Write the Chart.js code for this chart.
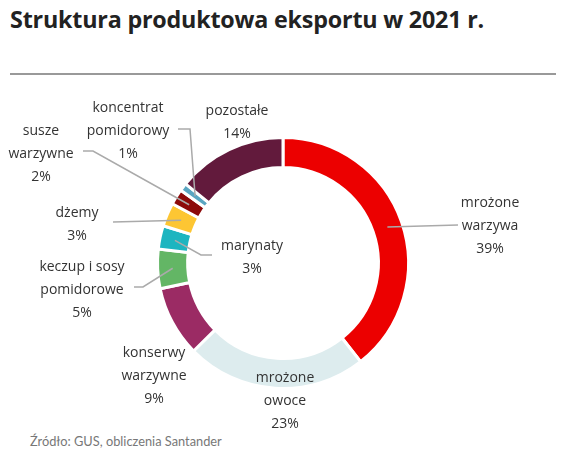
<!DOCTYPE html>
<html>
<head>
<meta charset="utf-8">
<script src="https://cdn.jsdelivr.net/npm/chart.js@4"></script>
<style>
  body { margin: 0; background: #fff; width: 570px; height: 467px; position: relative; overflow: hidden; }
  #title { position: absolute; left: 10px; top: 3px; font: bold 23.3px "Open Sans", sans-serif; color: #222; letter-spacing: -0.2px; }
  #rule { position: absolute; left: 10px; top: 73px; width: 546px; height: 2px; background: #999; }
  #source { position: absolute; left: 30px; top: 433px; font: 12.8px Lato, sans-serif; color: #777; }
  #wrap { position: absolute; left: 0; top: 0; width: 570px; height: 467px; }
</style>
</head>
<body>
<div id="title">Struktura produktowa eksportu w 2021 r.</div>
<div id="rule"></div>
<div id="source">Źródło: GUS, obliczenia Santander</div>
<div id="wrap"><canvas id="Export"></canvas></div>
<script>
var categories = [
  ['mrożone', 'warzywa'],
  ['mrożone', 'owoce'],
  ['konserwy', 'warzywne'],
  ['keczup i sosy', 'pomidorowe'],
  ['marynaty'],
  ['dżemy'],
  ['susze', 'warzywne'],
  ['koncentrat', 'pomidorowy'],
  ['pozostałe']
];
var shares = [39, 23, 9, 5, 3, 3, 2, 1, 14];
var colors = ['#EC0000', '#DDECEE', '#9B2B64', '#63B665', '#1DB5C0', '#FDC633', '#8C0A0A', '#5AA6C2', '#621A3C'];

// where each label sits (first line centre) and the bends of its leader line
var labelPos = [
  { x: 490, y: 203, line: [[458, 225]] },
  { x: 285, y: 378 },
  { x: 154, y: 353 },
  { x: 82, y: 267, line: [[143, 287], [134, 287]] },
  { x: 252, y: 246, line: [[201, 255], [212, 255]] },
  { x: 77, y: 213, line: [[113, 222]] },
  { x: 41, y: 131, line: [[93, 151], [83, 151]] },
  { x: 128, y: 108, line: [[190, 129], [178, 129]] },
  { x: 237, y: 111 }
];

var chartExport = document.getElementById("Export");
if (chartExport) {
  var myChartCircle = new Chart(chartExport, {
    type: 'doughnut',
    data: {
      labels: categories,
      datasets: [{
        backgroundColor: colors,
        borderColor: '#fff',
        borderWidth: 3,
        data: shares
      }]
    },
    plugins: [{
      afterDatasetsDraw: function(chart) {
        var ctx = chart.ctx;
        var arcs = chart.getDatasetMeta(0).data;
        ctx.save();
        arcs.forEach(function(arc, i) {
          var p = arc.getProps(['x', 'y', 'startAngle', 'endAngle', 'innerRadius', 'outerRadius'], true);
          var pos = labelPos[i];
          if (pos.line) {
            var a = (p.startAngle + p.endAngle) / 2;
            var r = (p.innerRadius + p.outerRadius) / 2;
            ctx.beginPath();
            ctx.moveTo(p.x + Math.cos(a) * r, p.y + Math.sin(a) * r);
            pos.line.forEach(function(pt) { ctx.lineTo(pt[0], pt[1]); });
            ctx.strokeStyle = '#aaa';
            ctx.lineWidth = 1.5;
            ctx.stroke();
          }
          var lines = categories[i].concat([shares[i] + '%']);
          ctx.font = '14px "Open Sans", sans-serif';
          ctx.fillStyle = '#333';
          ctx.textAlign = 'center';
          ctx.textBaseline = 'middle';
          lines.forEach(function(t, k) {
            ctx.fillText(t, pos.x, pos.y + k * 23);
          });
        });
        ctx.restore();
      }
    }],
    options: {
      responsive: true,
      maintainAspectRatio: false,
      animation: false,
      cutout: '76%',
      layout: { padding: { left: 156, right: 160, top: 136, bottom: 77 } },
      plugins: {
        legend: { display: false },
        tooltip: { enabled: false }
      }
    }
  });
}
</script>
</body>
</html>
